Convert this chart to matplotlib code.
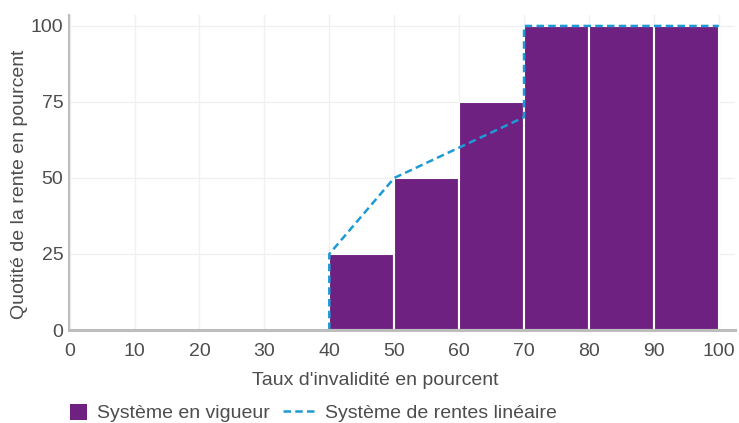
import matplotlib
matplotlib.use("Agg")
import matplotlib.pyplot as plt
from matplotlib.patches import Rectangle
from matplotlib.lines import Line2D

# ---- data ----
bar_left = [40, 50, 60, 70, 80, 90]
bar_values = [25, 50, 75, 100, 100, 100]
lin_x = [40, 40, 50, 70, 70, 100]
lin_y = [0, 25, 50, 70, 100, 100]
x_ticks = [0, 10, 20, 30, 40, 50, 60, 70, 80, 90, 100]
y_ticks = [0, 25, 50, 75, 100]
xlabel = "Taux d'invalidité en pourcent"
ylabel = "Quotité de la rente en pourcent"
legend_labels = ["Système en vigueur", "Système de rentes linéaire"]

PURPLE = "#6e2181"
BLUE = "#1e9ad6"
TEXT = "#4d4d4d"
SPINE = "#bdbdbd"
GRID = "#f0f0f0"
FS = 14

plt.rcParams['font.family'] = ['Liberation Sans', 'DejaVu Sans']

fig = plt.figure(figsize=(7.39, 4.23), dpi=100)
ax = fig.add_axes([69 / 739, 1 - 330 / 423, 666 / 739, 315 / 423])

ax.bar(bar_left, bar_values, width=10, align='edge', color=PURPLE,
       edgecolor='white', linewidth=1.5, zorder=2)
ax.plot(lin_x, lin_y, color=BLUE, linewidth=1.8, dashes=(3, 1.7), zorder=3)

ax.set_xlim(-0.1, 102.5)
ax.set_ylim(0, 103.6)
ax.set_xticks(x_ticks)
ax.set_yticks(y_ticks)
ax.grid(True, color=GRID, linewidth=1, zorder=0)
ax.set_axisbelow(True)

for s in ['top', 'right']:
    ax.spines[s].set_visible(False)
ax.spines['left'].set_color(SPINE)
ax.spines['left'].set_linewidth(1.5)
ax.spines['bottom'].set_color(SPINE)
ax.spines['bottom'].set_linewidth(2.2)
ax.spines['bottom'].set_zorder(4)

ax.tick_params(axis='both', length=0, labelsize=FS, labelcolor=TEXT)
ax.tick_params(axis='x', pad=9.5)
ax.tick_params(axis='y', pad=4)

ax.set_xlabel(xlabel, fontsize=FS, color=TEXT)
ax.xaxis.set_label_coords((375 - 69) / 666, -(372 - 330) / 315)
ax.set_ylabel(ylabel, fontsize=FS, color=TEXT)
ax.yaxis.set_label_coords(-(69 - 28) / 666, (330 - 184) / 315)

fs_px = FS * 100 / 72
h1 = [Rectangle((0, 0), 1, 1, facecolor=PURPLE, edgecolor='none')]
leg1 = fig.legend(h1, legend_labels[:1], loc='center left',
                  bbox_to_anchor=(70 / 739, 1 - 413 / 423), frameon=False,
                  fontsize=FS, handlelength=17 / fs_px, handleheight=17 / fs_px,
                  handletextpad=10 / fs_px, borderpad=0, borderaxespad=0)
h2 = [Line2D([0], [0], color=BLUE, linewidth=1.8, dashes=(3, 1.7))]
leg2 = fig.legend(h2, legend_labels[1:], loc='center left',
                  bbox_to_anchor=(283 / 739, 1 - 413 / 423), frameon=False,
                  fontsize=FS, handlelength=32 / fs_px, handleheight=17 / fs_px,
                  handletextpad=10 / fs_px, borderpad=0, borderaxespad=0)
for lg in (leg1, leg2):
    for t in lg.get_texts():
        t.set_color(TEXT)

fig.savefig("out.png", dpi=100)
